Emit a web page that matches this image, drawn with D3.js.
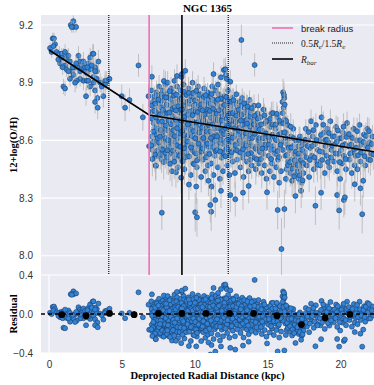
<!DOCTYPE html>
<html>
<head>
<meta charset="utf-8">
<script src="https://cdn.jsdelivr.net/npm/d3@7"></script>
<style>
  body { margin: 0; background: #fff; }
</style>
</head>
<body>
<div id="chart"></div>
<script>
// NGC 1365 metallicity gradient + residuals

const oxyTicks = [8.0, 8.3, 8.6, 8.9, 9.2];
const resTicks = [-0.4, 0.0, 0.4];
const radTicks = [0, 5, 10, 15, 20];

// broken linear fit (kpc, 12+log(O/H))
const fitR = [0, 6.87, 22.3];
const fitOH = [9.07, 8.732, 8.541];

const rBreak = 6.87;
const rBar = 9.12;
const rEffLines = [4.1, 12.3];

// binned median residuals
const binR = [0.87, 2.54, 4.15, 5.84, 7.51, 9.12, 10.77, 12.39, 14.04, 15.65, 17.32, 18.95, 20.64];
const binRes = [-0.007, -0.018, 0.006, -0.007, 0.006, 0.006, 0.006, 0.006, 0.006, -0.018, -0.108, -0.039, -0.004];
const binErr = [0.02, 0.02, 0.02, 0.035, 0.01, 0.01, 0.01, 0.01, 0.012, 0.015, 0.02, 0.015, 0.015];

// spaxels inside the break: [r, O/H, err]
const innerSpaxels = [
  [0.07,9.08,.03],[0.18,9.06,.03],[0.25,9.13,.03],[0.34,9.13,.03],[0.41,9.10,.03],[0.30,9.09,.03],[0.53,9.06,.03],
  [0.71,9.05,.04],[0.87,9.05,.03],[0.99,9.04,.04],[1.21,9.03,.04],[1.33,9.04,.04],[1.44,9.01,.04],[1.10,8.99,.04],
  [0.76,9.00,.03],[0.94,8.98,.04],[0.64,9.02,.03],[1.21,8.97,.04],[1.56,8.96,.04],[1.79,8.98,.04],[2.02,9.04,.05],
  [2.13,9.01,.04],[2.25,8.99,.04],[2.36,9.01,.05],[2.47,8.96,.04],[2.70,9.00,.05],[2.82,9.03,.05],[3.00,9.05,.05],
  [3.05,9.05,.05],[2.82,8.97,.05],[2.59,8.95,.04],[2.36,8.91,.05],[2.13,8.92,.04],[1.90,8.91,.04],[1.67,8.94,.04],
  [1.44,8.92,.04],[1.79,8.90,.05],[2.25,8.97,.04],[2.59,8.91,.05],[3.05,8.93,.05],[3.28,8.96,.05],[3.39,9.01,.06],
  [3.16,8.98,.05],[3.28,8.92,.05],[3.05,8.90,.05],[2.82,8.88,.05],[3.16,8.86,.06],[3.32,8.82,.06],[3.16,8.80,.06],
  [3.34,8.77,.06],[2.54,8.83,.05],[0.99,8.88,.04],[1.10,8.87,.04],[3.51,8.90,.05],[3.85,8.91,.05],[3.96,8.91,.05],
  [4.15,8.92,.05],[3.73,8.83,.06],[4.99,8.83,.06],[5.22,8.77,.07],[5.52,8.81,.06],[6.14,8.99,.06],[6.44,8.72,.07],
  [6.83,8.83,.06],[3.62,8.88,.05],[3.85,8.89,.05],[2.70,8.91,.05],[2.13,8.96,.04],[1.95,8.98,.04],[1.33,8.96,.04],
  [0.87,9.03,.03],[1.10,9.06,.04],[2.47,8.98,.04],[2.93,8.99,.05],[3.16,8.96,.05],[2.63,8.98,.05],[1.86,9.00,.04],
  [1.63,8.98,.04],[1.67,9.22,.03],[1.49,9.20,.03],[1.67,9.19,.03],[1.86,9.19,.03],[1.56,9.19,.03],[6.87,8.57,.05]
];

// spaxels outside the break, first pass: [r, O/H, err]
const outerSpaxels = [
  [7.02,8.86,.06],[7.05,8.62,.05],[7.08,8.75,.04],[7.11,8.55,.07],[7.14,8.80,.05],[7.17,8.69,.04],[7.2,8.58,.06],
  [7.23,8.83,.05],[7.26,8.72,.04],[7.29,8.64,.06],[7.32,8.47,.08],[7.35,8.77,.05],[7.38,8.85,.06],[7.41,8.60,.05],
  [7.44,8.70,.04],[7.47,8.81,.05],[7.49,8.52,.07],[7.24,8.515,.06],[7.33,8.468,.07],[7.06,8.931,.06],
  [7.52,8.74,.05],[7.55,8.88,.06],[7.58,8.63,.05],[7.61,8.79,.04],[7.64,8.57,.06],[7.67,8.84,.05],[7.7,8.68,.04],
  [7.73,8.50,.07],[7.76,8.76,.05],[7.79,8.61,.05],[7.82,8.86,.06],[7.85,8.71,.04],[7.88,8.54,.06],[7.91,8.81,.05],
  [7.94,8.66,.05],[7.97,8.59,.06],[7.99,8.89,.07],[7.74,8.524,.06],[7.86,8.559,.06],[7.74,8.224,.09],[7.88,8.909,.06],
  [8.02,8.73,.05],[8.05,8.84,.05],[8.08,8.56,.06],[8.11,8.66,.04],[8.14,8.90,.06],[8.17,8.78,.05],[8.2,8.49,.07],
  [8.23,8.70,.04],[8.26,8.62,.05],[8.29,8.82,.05],[8.32,8.53,.06],[8.35,8.75,.04],[8.38,8.87,.06],[8.41,8.64,.05],
  [8.44,8.44,.08],[8.47,8.79,.05],[8.49,8.68,.04],[8.03,8.60,.05],[8.36,8.58,.05],
  [8.52,8.85,.05],[8.55,8.60,.05],[8.58,8.72,.04],[8.61,8.91,.06],[8.64,8.51,.07],[8.67,8.80,.05],[8.7,8.66,.04],
  [8.73,8.57,.06],[8.76,8.76,.05],[8.79,8.88,.06],[8.82,8.63,.05],[8.85,8.46,.08],[8.88,8.71,.04],[8.91,8.83,.05],
  [8.94,8.55,.06],[8.97,8.69,.04],[8.99,8.78,.05],[8.56,8.68,.05],[8.86,8.52,.06],[8.71,8.434,.08],[8.78,8.935,.06],
  [9.02,8.62,.05],[9.05,8.86,.05],[9.08,8.74,.04],[9.11,8.50,.07],[9.14,8.81,.05],[9.17,8.67,.04],[9.2,8.58,.06],
  [9.23,8.89,.06],[9.26,8.71,.04],[9.29,8.45,.08],[9.32,8.77,.05],[9.35,8.63,.05],[9.38,8.84,.05],[9.41,8.54,.06],
  [9.44,8.69,.04],[9.47,8.80,.05],[9.49,8.60,.05],[9.1,8.93,.06],[9.3,8.66,.05],[9.07,8.406,.08],[9.12,8.945,.06],[9.35,8.962,.06],
  [9.52,8.75,.05],[9.55,8.52,.06],[9.58,8.87,.06],[9.61,8.66,.04],[9.64,8.79,.05],[9.67,8.58,.05],[9.7,8.72,.04],
  [9.73,8.42,.08],[9.76,8.83,.05],[9.79,8.64,.05],[9.82,8.55,.06],[9.85,8.90,.06],[9.88,8.70,.04],[9.91,8.48,.07],
  [9.94,8.77,.05],[9.97,8.61,.05],[9.99,8.82,.05],[9.6,8.37,.08],[9.8,8.68,.04],
  [10.02,8.67,.04],[10.05,8.85,.05],[10.08,8.56,.06],[10.11,8.74,.05],[10.14,8.46,.07],[10.17,8.80,.05],[10.2,8.63,.05],
  [10.23,8.88,.06],[10.26,8.70,.04],[10.29,8.52,.06],[10.32,8.78,.05],[10.35,8.59,.05],[10.38,8.84,.05],[10.41,8.66,.04],
  [10.44,8.41,.08],[10.47,8.73,.05],[10.49,8.61,.05],[10.1,8.36,.09],[10.4,8.54,.06],[10.03,8.226,.1],[10.15,8.2,.1],
  [10.52,8.82,.05],[10.55,8.64,.05],[10.58,8.50,.06],[10.61,8.76,.05],[10.64,8.87,.06],[10.67,8.57,.05],[10.7,8.69,.04],
  [10.73,8.44,.07],[10.76,8.80,.05],[10.79,8.62,.05],[10.82,8.74,.04],[10.85,8.53,.06],[10.88,8.85,.05],[10.91,8.67,.04],
  [10.94,8.39,.08],[10.97,8.78,.05],[10.99,8.59,.05],[10.6,8.71,.04],[10.9,8.47,.06],
  [11.02,8.70,.04],[11.05,8.55,.06],[11.08,8.83,.05],[11.11,8.63,.05],[11.14,8.48,.07],[11.17,8.77,.05],[11.2,8.88,.06],
  [11.23,8.60,.05],[11.26,8.72,.04],[11.29,8.42,.08],[11.32,8.81,.05],[11.35,8.66,.04],[11.38,8.52,.06],[11.41,8.75,.05],
  [11.44,8.86,.05],[11.47,8.58,.05],[11.49,8.69,.04],[11.15,8.36,.08],[11.13,8.229,.1],[11.07,8.264,.09],[11.41,8.29,.09],[11.29,8.945,.06],
  [11.52,8.79,.05],[11.55,8.62,.05],[11.58,8.46,.07],[11.61,8.74,.05],[11.64,8.84,.05],[11.67,8.56,.06],[11.7,8.68,.04],
  [11.73,8.40,.08],[11.76,8.77,.05],[11.79,8.61,.05],[11.82,8.71,.04],[11.85,8.51,.06],[11.88,8.82,.05],[11.91,8.65,.04],
  [11.94,8.44,.07],[11.97,8.75,.05],[11.99,8.58,.05],[11.6,8.89,.06],[11.8,8.338,.09],[11.8,8.928,.06],[12.0,8.966,.06],
  [12.02,8.68,.04],[12.05,8.83,.05],[12.08,8.55,.06],[12.11,8.72,.04],[12.14,8.94,.06],[12.17,8.60,.05],[12.2,8.78,.05],
  [12.23,8.47,.07],[12.26,8.66,.04],[12.29,8.86,.05],[12.32,8.57,.05],[12.35,8.74,.05],[12.38,8.42,.08],[12.41,8.80,.05],
  [12.44,8.63,.04],[12.47,8.52,.06],[12.49,8.70,.04],[12.1,8.97,.06],[12.2,8.92,.05],[12.44,8.316,.09],[12.44,8.905,.06],
  [12.52,8.76,.05],[12.55,8.59,.05],[12.58,8.82,.05],[12.61,8.49,.07],[12.64,8.69,.04],[12.67,8.55,.06],[12.7,8.79,.05],
  [12.73,8.64,.04],[12.76,8.43,.08],[12.79,8.73,.05],[12.82,8.58,.05],[12.85,8.84,.05],[12.88,8.67,.04],[12.91,8.50,.06],
  [12.94,8.77,.05],[12.97,8.61,.05],[12.78,8.294,.09],
  [13.02,8.71,.04],[13.05,8.54,.06],[13.08,8.80,.05],[13.11,8.63,.05],[13.14,8.46,.07],[13.17,8.74,.05],[13.2,8.58,.05],
  [13.23,8.68,.04],[13.26,8.82,.05],[13.29,8.51,.06],[13.32,8.65,.04],[13.35,8.41,.08],[13.38,8.77,.05],[13.41,8.60,.05],
  [13.44,8.70,.04],[13.47,8.53,.06],[13.31,8.328,.09],[13.2,9.122,.08],
  [13.52,8.66,.05],[13.55,8.79,.05],[13.58,8.49,.07],[13.61,8.62,.05],[13.64,8.73,.04],[13.67,8.56,.05],[13.7,8.44,.07],
  [13.73,8.69,.04],[13.76,8.81,.05],[13.79,8.59,.05],[13.82,8.50,.06],[13.85,8.72,.05],[13.88,8.64,.04],[13.91,8.47,.07],
  [13.94,8.76,.05],[13.97,8.57,.05],[13.7,8.363,.09],
  [14.03,8.62,.05],[14.07,8.78,.06],[14.11,8.51,.06],[14.15,8.70,.05],[14.19,8.45,.08],[14.23,8.66,.05],[14.27,8.57,.06],
  [14.31,8.74,.05],[14.35,8.60,.05],[14.39,8.48,.07],[14.43,8.68,.05],[14.47,8.54,.06],[14.11,8.992,.06],
  [14.52,8.72,.05],[14.56,8.58,.06],[14.6,8.43,.08],[14.64,8.65,.05],[14.68,8.53,.06],[14.72,8.76,.06],[14.76,8.61,.05],
  [14.8,8.47,.07],[14.84,8.69,.05],[14.88,8.56,.06],[14.92,8.40,.08],[14.96,8.63,.05],[14.96,8.33,.09],
  [15.03,8.70,.05],[15.07,8.52,.06],[15.11,8.60,.05],[15.15,8.44,.07],[15.19,8.67,.05],[15.23,8.55,.06],[15.27,8.74,.06],
  [15.31,8.48,.07],[15.35,8.63,.05],[15.39,8.57,.05],[15.43,8.41,.08],[15.47,8.68,.05],
  [15.52,8.53,.06],[15.56,8.66,.05],[15.6,8.46,.07],[15.64,8.60,.05],[15.68,8.72,.06],[15.72,8.50,.06],[15.76,8.63,.05],
  [15.8,8.38,.08],[15.84,8.56,.06],[15.88,8.69,.05],[15.92,8.44,.07],[15.96,8.59,.05],[15.69,8.238,.1],[15.95,8.035,.16],
  [16.02,8.80,.06],[16.06,8.85,.07],[16.1,8.77,.06],[16.14,8.82,.06],[16.18,8.71,.05],[16.22,8.52,.06],[16.26,8.64,.05],
  [16.3,8.45,.07],[16.34,8.58,.06],[16.38,8.68,.05],[16.42,8.49,.07],[16.46,8.61,.05],[16.05,8.55,.06],[16.25,8.40,.08],[16.15,8.243,.1],
  [16.52,8.55,.06],[16.56,8.43,.07],[16.6,8.62,.05],[16.64,8.50,.06],[16.68,8.39,.08],[16.72,8.57,.06],[16.76,8.66,.05],
  [16.8,8.47,.07],[16.84,8.53,.06],[16.88,8.42,.07],[16.92,8.60,.05],[16.96,8.48,.06],[16.91,8.311,.09],
  [17.02,8.51,.06],[17.06,8.44,.07],[17.1,8.57,.06],[17.14,8.40,.08],[17.18,8.49,.06],[17.22,8.62,.05],[17.26,8.45,.07],
  [17.3,8.53,.06],[17.34,8.38,.08],[17.38,8.47,.07],[17.42,8.58,.06],[17.46,8.43,.07],[17.3,8.338,.09],
  [17.55,8.54,.06],[17.62,8.66,.05],[17.7,8.47,.07],[17.78,8.60,.05],[17.85,8.41,.08],[17.92,8.56,.06],[17.98,8.70,.06],
  [18.04,8.52,.06],[18.1,8.62,.05],[18.17,8.45,.07],[18.24,8.58,.06],[18.31,8.68,.06],[18.38,8.49,.07],[18.45,8.55,.06],[18.28,8.26,.1],
  [18.55,8.60,.05],[18.62,8.47,.07],[18.7,8.72,.06],[18.78,8.54,.06],[18.85,8.64,.05],[18.92,8.43,.08],[18.98,8.57,.06],[18.67,8.328,.09],
  [19.04,8.52,.06],[19.1,8.66,.05],[19.17,8.59,.06],[19.24,8.46,.07],[19.31,8.70,.06],[19.38,8.55,.06],[19.45,8.62,.05],
  [19.55,8.49,.07],[19.62,8.58,.06],[19.7,8.67,.06],[19.78,8.44,.08],[19.85,8.53,.06],[19.92,8.61,.05],[19.98,8.40,.08],
  [19.77,8.316,.09],[19.91,8.236,.1],
  [20.04,8.55,.06],[20.1,8.48,.07],[20.17,8.64,.06],[20.24,8.52,.06],[20.31,8.58,.05],[20.38,8.45,.07],[20.45,8.69,.06],
  [20.23,8.29,.09],[20.3,8.304,.09],
  [20.55,8.57,.06],[20.62,8.50,.06],[20.7,8.62,.05],[20.78,8.43,.08],[20.85,8.54,.06],[20.92,8.66,.06],[20.98,8.47,.07],[20.98,8.372,.09],
  [21.04,8.52,.06],[21.1,8.60,.05],[21.17,8.45,.07],[21.24,8.56,.06],[21.31,8.68,.06],[21.38,8.49,.07],[21.45,8.58,.06],
  [21.49,8.216,.1],[21.37,8.351,.09],
  [21.55,8.54,.06],[21.62,8.63,.05],[21.7,8.47,.07],[21.78,8.57,.06],[21.85,8.66,.06],[21.92,8.50,.07],[22.0,8.59,.06],
  [22.1,8.53,.06],[22.2,8.62,.06],[21.56,8.39,.09]
];

// spaxels outside the break, second pass (filling the dense disc): [r, O/H, err]
const discSpaxels = [
  [7.07,8.713,.07],[7.43,8.547,.08],[7.19,8.806,.06],[7.31,8.668,.07],[7.13,8.592,.08],[7.46,8.742,.06],[7.27,8.527,.09],
  [7.04,8.781,.06],[7.36,8.628,.07],[7.22,8.754,.06],[7.48,8.661,.07],[7.09,8.503,.09],[7.4,8.834,.06],[7.16,8.646,.07],
  [7.29,8.791,.06],[7.02,8.574,.08],[7.34,8.719,.07],[7.45,8.611,.08],
  [7.57,8.697,.07],[7.92,8.742,.06],[7.63,8.528,.08],[7.81,8.642,.07],[7.69,8.806,.06],[7.54,8.589,.08],[7.96,8.613,.07],
  [7.72,8.771,.06],[7.87,8.487,.09],[7.6,8.735,.06],[7.77,8.552,.08],[7.93,8.826,.06],[7.66,8.654,.07],[7.84,8.759,.06],
  [7.51,8.812,.06],[7.98,8.534,.08],[7.75,8.698,.07],[7.62,8.619,.07],
  [8.07,8.786,.06],[8.43,8.597,.08],[8.18,8.651,.07],[8.33,8.814,.06],[8.09,8.512,.09],[8.46,8.727,.06],[8.24,8.569,.08],
  [8.01,8.677,.07],[8.39,8.536,.08],[8.13,8.742,.06],[8.28,8.856,.06],[8.48,8.628,.07],[8.21,8.703,.07],[8.04,8.823,.06],
  [8.36,8.684,.07],[8.16,8.601,.08],[8.31,8.478,.09],[8.44,8.763,.06],[8.26,8.745,.06],[8.12,8.548,.08],
  [8.53,8.653,.07],[8.89,8.613,.07],[8.62,8.772,.06],[8.77,8.525,.09],[8.57,8.832,.06],[8.93,8.746,.06],[8.68,8.591,.08],
  [8.84,8.686,.07],[8.51,8.547,.08],[8.74,8.838,.06],[8.98,8.638,.07],[8.66,8.709,.07],[8.81,8.574,.08],[8.59,8.489,.09],
  [8.95,8.811,.06],[8.71,8.756,.06],[8.87,8.778,.06],[8.63,8.622,.07],[8.79,8.663,.07],[8.96,8.521,.08],
  [9.06,8.704,.07],[9.42,8.742,.06],[9.18,8.538,.08],[9.33,8.603,.07],[9.09,8.819,.06],[9.46,8.671,.07],[9.24,8.783,.06],
  [9.01,8.567,.08],[9.37,8.512,.09],[9.13,8.647,.07],[9.28,8.852,.06],[9.48,8.578,.08],[9.21,8.628,.07],[9.04,8.758,.06],
  [9.39,8.696,.07],[9.16,8.491,.09],[9.31,8.724,.06],[9.44,8.836,.06],[9.26,8.559,.08],[9.12,8.761,.06],
  [9.57,8.627,.07],[9.93,8.693,.07],[9.68,8.808,.06],[9.83,8.577,.08],[9.54,8.734,.06],[9.98,8.538,.08],[9.72,8.654,.07],
  [9.87,8.846,.06],[9.51,8.594,.08],[9.78,8.753,.06],[9.62,8.516,.09],[9.95,8.781,.06],[9.66,8.689,.07],[9.81,8.622,.07],
  [9.59,8.847,.06],[9.91,8.648,.07],[9.74,8.563,.08],[9.86,8.731,.06],[9.53,8.682,.07],[9.96,8.476,.09],
  [10.06,8.751,.06],[10.42,8.688,.07],[10.18,8.604,.07],[10.33,8.719,.07],[10.09,8.532,.08],[10.46,8.812,.06],[10.24,8.663,.07],
  [10.01,8.808,.06],[10.37,8.567,.08],[10.13,8.692,.07],[10.28,8.836,.06],[10.48,8.543,.08],[10.21,8.748,.06],[10.04,8.611,.07],
  [10.39,8.764,.06],[10.16,8.497,.09],[10.31,8.641,.07],[10.44,8.787,.06],[10.26,8.583,.08],[10.11,8.858,.06],
  [10.57,8.703,.07],[10.93,8.621,.07],[10.68,8.783,.06],[10.83,8.677,.07],[10.54,8.558,.08],[10.98,8.733,.06],[10.72,8.597,.08],
  [10.87,8.811,.06],[10.51,8.667,.07],[10.78,8.512,.09],[10.62,8.826,.06],[10.95,8.568,.08],[10.66,8.734,.06],[10.81,8.647,.07],
  [10.59,8.612,.07],[10.91,8.759,.06],[10.74,8.835,.06],[10.86,8.583,.08],[10.53,8.757,.06],[10.96,8.679,.07],
  [11.06,8.646,.07],[11.42,8.706,.07],[11.18,8.584,.08],[11.33,8.738,.06],[11.09,8.791,.06],[11.46,8.629,.07],[11.24,8.811,.06],
  [11.01,8.529,.08],[11.37,8.662,.07],[11.13,8.718,.06],[11.28,8.566,.08],[11.48,8.801,.06],[11.21,8.683,.07],[11.04,8.753,.06],
  [11.39,8.597,.08],[11.16,8.841,.06],[11.31,8.621,.07],[11.44,8.544,.08],[11.26,8.765,.06],[11.11,8.612,.07],
  [11.57,8.706,.07],[11.93,8.684,.07],[11.68,8.631,.07],[11.83,8.776,.06],[11.54,8.549,.08],[11.98,8.811,.06],[11.72,8.588,.08],
  [11.87,8.647,.07],[11.51,8.738,.06],[11.78,8.817,.06],[11.62,8.664,.07],[11.95,8.534,.08],[11.66,8.757,.06],[11.81,8.603,.07],
  [11.59,8.812,.06],[11.91,8.726,.06],[11.74,8.542,.08],[11.86,8.703,.07],[11.53,8.621,.07],[11.96,8.652,.07],
  [12.06,8.754,.06],[12.42,8.668,.07],[12.18,8.712,.07],[12.33,8.622,.07],[12.09,8.589,.08],[12.46,8.781,.06],[12.24,8.804,.06],
  [12.01,8.632,.07],[12.37,8.543,.08],[12.13,8.662,.07],[12.28,8.729,.06],[12.48,8.597,.08],[12.21,8.558,.08],[12.04,8.784,.06],
  [12.39,8.707,.07],[12.16,8.826,.06],[12.31,8.681,.07],[12.44,8.741,.06],[12.26,8.603,.07],[12.11,8.518,.09],
  [12.57,8.682,.07],[12.93,8.707,.07],[12.68,8.622,.07],[12.83,8.756,.06],[12.54,8.538,.08],[12.98,8.587,.08],[12.72,8.717,.06],
  [12.87,8.629,.07],[12.51,8.801,.06],[12.78,8.574,.08],[12.62,8.742,.06],[12.95,8.663,.07],[12.66,8.809,.06],[12.81,8.695,.07],
  [12.59,8.614,.07],[12.91,8.548,.08],[12.74,8.663,.07],[12.86,8.729,.06],
  [13.06,8.663,.07],[13.42,8.642,.07],[13.18,8.781,.06],[13.33,8.571,.08],[13.09,8.598,.08],[13.46,8.747,.06],[13.24,8.623,.07],
  [13.01,8.759,.06],[13.37,8.701,.07],[13.13,8.537,.08],[13.28,8.681,.07],[13.48,8.582,.08],[13.21,8.732,.06],[13.04,8.649,.07],
  [13.39,8.793,.06],[13.16,8.703,.07],[13.31,8.554,.08],
  [13.57,8.708,.07],[13.93,8.662,.07],[13.68,8.611,.07],[13.83,8.754,.06],[13.54,8.573,.08],[13.98,8.697,.07],[13.72,8.752,.06],
  [13.87,8.534,.08],[13.51,8.637,.07],[13.78,8.672,.07],[13.62,8.776,.06],[13.95,8.613,.07],[13.66,8.529,.08],[13.81,8.723,.06],
  [13.59,8.688,.07],[13.91,8.768,.06],
  [14.06,8.683,.07],[14.42,8.612,.07],[14.18,8.557,.08],[14.33,8.713,.06],[14.09,8.728,.06],[14.46,8.657,.07],[14.24,8.503,.09],
  [14.13,8.634,.07],[14.37,8.782,.06],
  [14.57,8.683,.07],[14.93,8.701,.07],[14.68,8.612,.07],[14.83,8.578,.08],[14.54,8.503,.09],[14.78,8.731,.06],[14.63,8.558,.08],
  [14.89,8.637,.07],
  [15.06,8.618,.07],[15.42,8.552,.08],[15.18,8.712,.06],[15.33,8.683,.07],[15.09,8.578,.08],[15.46,8.617,.07],[15.24,8.503,.09],
  [15.37,8.742,.06],
  [15.57,8.603,.07],[15.93,8.638,.07],[15.68,8.544,.08],[15.83,8.702,.06],[15.54,8.682,.07],[15.78,8.513,.09],[15.63,8.738,.06],
  [15.89,8.577,.08],
  [16.04,8.742,.07],[16.12,8.836,.07],[16.08,8.689,.07],[16.17,8.786,.07],[16.21,8.613,.08],[16.33,8.524,.08],[16.44,8.562,.08],
  [16.28,8.701,.07],[16.39,8.471,.09],[16.16,8.642,.07],
  [16.54,8.487,.08],[16.63,8.562,.08],[16.71,8.453,.09],[16.78,8.612,.07],[16.86,8.497,.08],[16.94,8.542,.08],[16.59,8.671,.07],
  [16.82,8.413,.09],
  [17.04,8.472,.08],[17.12,8.531,.08],[17.2,8.418,.09],[17.28,8.497,.08],[17.36,8.551,.08],[17.44,8.482,.08],[17.16,8.602,.07],
  [17.4,8.392,.09],
  [17.58,8.603,.07],[17.66,8.512,.08],[17.74,8.571,.08],[17.82,8.643,.07],[17.9,8.498,.08],
  [18.07,8.571,.08],[18.14,8.653,.07],[18.21,8.512,.08],[18.35,8.602,.07],[18.42,8.473,.09],
  [18.58,8.543,.08],[18.66,8.628,.07],[18.74,8.498,.08],[18.82,8.681,.07],[18.95,8.602,.07],
  [19.07,8.603,.07],[19.14,8.487,.08],[19.21,8.638,.07],[19.35,8.511,.08],[19.42,8.572,.08],
  [19.58,8.621,.07],[19.66,8.532,.08],[19.74,8.592,.08],[19.82,8.652,.07],[19.95,8.487,.08],
  [20.07,8.612,.07],[20.14,8.573,.08],[20.21,8.671,.07],[20.35,8.503,.08],[20.42,8.618,.07],
  [20.58,8.633,.07],[20.66,8.531,.08],[20.74,8.578,.08],[20.82,8.612,.07],[20.95,8.552,.08],
  [21.07,8.562,.08],[21.14,8.648,.07],[21.21,8.523,.08],[21.35,8.601,.07],[21.42,8.537,.08],
  [21.58,8.592,.07],[21.66,8.518,.08],[21.74,8.623,.07],[21.88,8.562,.08],[21.96,8.648,.07],[22.05,8.498,.08],
  [22.15,8.581,.07],[22.25,8.527,.08]
];

// ---------------- layout
const W = 374, H = 385;
const left = 41, right = 374;
const topY0 = 15, topY1 = 275, resY0 = 275, resY1 = 353;

const svg = d3.select("#chart").append("svg")
  .attr("width", W).attr("height", H)
  .style("font-family", "'Liberation Sans', Arial, sans-serif");

const x = d3.scaleLinear().domain([-0.55, 22.3]).range([left, right]);
const y = d3.scaleLinear().domain([7.9, 9.252]).range([topY1, topY0]);
const yr = d3.scaleLinear().domain([-0.4, 0.4]).range([resY1, resY0]);
const fit = d3.scaleLinear().domain(fitR).range(fitOH);

const spaxels = innerSpaxels.concat(outerSpaxels, discSpaxels)
  .map(d => ({ r: d[0], oh: d[1], e: d[2] }));
spaxels.forEach(d => { d.res = d.oh - fit(d.r); });

const defs = svg.append("defs");
defs.append("clipPath").attr("id", "clipTop").append("rect")
  .attr("x", left).attr("y", topY0).attr("width", right - left).attr("height", topY1 - topY0);
defs.append("clipPath").attr("id", "clipRes").append("rect")
  .attr("x", left).attr("y", resY0).attr("width", right - left).attr("height", resY1 - resY0);

// backgrounds
svg.append("rect").attr("x", left).attr("y", topY0).attr("width", right - left)
  .attr("height", topY1 - topY0).attr("fill", "#eaeaf2");
svg.append("rect").attr("x", left).attr("y", resY0).attr("width", right - left)
  .attr("height", resY1 - resY0).attr("fill", "#eaeaf2");

// grid
svg.append("g").selectAll("line").data(oxyTicks).enter().append("line")
  .attr("x1", left).attr("x2", right).attr("y1", d => y(d)).attr("y2", d => y(d))
  .attr("stroke", "#fff").attr("stroke-width", 1.2);
svg.append("g").selectAll("line").data(resTicks).enter().append("line")
  .attr("x1", left).attr("x2", right).attr("y1", d => yr(d)).attr("y2", d => yr(d))
  .attr("stroke", "#fff").attr("stroke-width", 1.2);
svg.append("g").selectAll("line").data(radTicks).enter().append("line")
  .attr("x1", d => x(d)).attr("x2", d => x(d)).attr("y1", resY0).attr("y2", resY1)
  .attr("stroke", "#fff").attr("stroke-width", 1.2);

// ---------------- top panel
const topG = svg.append("g").attr("clip-path", "url(#clipTop)");

// errorbar + marker per spaxel, in order, so later bars sit over earlier markers
const pts = topG.append("g").selectAll("g").data(spaxels).enter().append("g");
pts.append("line")
  .attr("x1", d => x(d.r)).attr("x2", d => x(d.r))
  .attr("y1", d => y(d.oh - d.e)).attr("y2", d => y(d.oh + d.e))
  .attr("stroke", "#b0b0b0").attr("stroke-opacity", 0.75).attr("stroke-width", 1);
pts.append("circle")
  .attr("cx", d => x(d.r)).attr("cy", d => y(d.oh)).attr("r", 2.5)
  .attr("fill", "#3282d6").attr("stroke", "#1a3d66").attr("stroke-width", 0.6);

topG.append("path")
  .datum(fitR.map((r, i) => ({ r: r, oh: fitOH[i] })))
  .attr("fill", "none").attr("stroke", "#000").attr("stroke-width", 1.6)
  .attr("d", d3.line().x(d => x(d.r)).y(d => y(d.oh)));

topG.append("line")
  .attr("x1", x(rBreak)).attr("x2", x(rBreak)).attr("y1", topY0).attr("y2", topY1)
  .attr("stroke", "#f06eb4").attr("stroke-width", 1.6);
topG.selectAll(".reff").data(rEffLines).enter().append("line")
  .attr("x1", d => x(d)).attr("x2", d => x(d)).attr("y1", topY0).attr("y2", topY1)
  .attr("stroke", "#222").attr("stroke-width", 1.3).attr("stroke-dasharray", "1,1");
topG.append("line")
  .attr("x1", x(rBar)).attr("x2", x(rBar)).attr("y1", topY0).attr("y2", topY1)
  .attr("stroke", "#000").attr("stroke-width", 1.6);

// ---------------- residual panel
const resG = svg.append("g").attr("clip-path", "url(#clipRes)");

resG.append("g").selectAll("circle").data(spaxels).enter().append("circle")
  .attr("cx", d => x(d.r)).attr("cy", d => yr(d.res)).attr("r", 2.5)
  .attr("fill", "#3282d6").attr("stroke", "#1a3d66").attr("stroke-width", 0.6);

resG.append("line")
  .attr("x1", left).attr("x2", right).attr("y1", yr(0)).attr("y2", yr(0))
  .attr("stroke", "#000").attr("stroke-width", 1.6).attr("stroke-dasharray", "4,3");

const bins = binR.map((r, i) => ({ r: r, v: binRes[i], e: binErr[i] }));
resG.append("g").selectAll("line").data(bins).enter().append("line")
  .attr("x1", d => x(d.r)).attr("x2", d => x(d.r))
  .attr("y1", d => yr(d.v - d.e)).attr("y2", d => yr(d.v + d.e))
  .attr("stroke", "#000").attr("stroke-width", 1.5);
resG.append("g").selectAll("circle").data(bins).enter().append("circle")
  .attr("cx", d => x(d.r)).attr("cy", d => yr(d.v)).attr("r", 3.4).attr("fill", "#000");

// ---------------- axes
function styleAxis(g) {
  g.select(".domain").remove();
  g.selectAll("text").attr("fill", "#333").style("font-size", "10px")
    .style("font-family", "'Liberation Sans', Arial, sans-serif");
}
svg.append("g").attr("transform", `translate(${left},0)`)
  .call(d3.axisLeft(y).tickValues(oxyTicks).tickSize(0).tickPadding(8).tickFormat(d3.format(".1f")))
  .call(styleAxis);
svg.append("g").attr("transform", `translate(${left},0)`)
  .call(d3.axisLeft(yr).tickValues(resTicks).tickSize(0).tickPadding(8).tickFormat(d3.format(".1f")))
  .call(styleAxis);
svg.append("g").attr("transform", `translate(0,${resY1})`)
  .call(d3.axisBottom(x).tickValues(radTicks).tickSize(0).tickPadding(8))
  .call(styleAxis);

// labels
const serif = "'Liberation Serif', 'Times New Roman', serif";
svg.append("text").attr("x", (left + right) / 2).attr("y", 12)
  .attr("text-anchor", "middle").style("font-family", serif).style("font-weight", "bold")
  .style("font-size", "11px").text("NGC 1365");
svg.append("text").attr("transform", `translate(17,${(topY0 + topY1) / 2}) rotate(-90)`)
  .attr("text-anchor", "middle").style("font-family", serif).style("font-weight", "bold")
  .style("font-size", "10.5px").text("12+log(O/H)");
svg.append("text").attr("transform", `translate(17,${(resY0 + resY1) / 2}) rotate(-90)`)
  .attr("text-anchor", "middle").style("font-family", serif).style("font-weight", "bold")
  .style("font-size", "10.5px").text("Residual");
svg.append("text").attr("x", (left + right) / 2).attr("y", 379)
  .attr("text-anchor", "middle").style("font-family", serif).style("font-weight", "bold")
  .style("font-size", "10.5px").text("Deprojected Radial Distance (kpc)");

// ---------------- legend
const legend = svg.append("g").attr("transform", "translate(272,28)");
legend.append("line").attr("x1", 0).attr("x2", 21).attr("y1", 0).attr("y2", 0)
  .attr("stroke", "#f06eb4").attr("stroke-width", 1.6);
legend.append("text").attr("x", 29).attr("y", 3.5).attr("fill", "#222")
  .style("font-size", "9.5px").text("break radius");

legend.append("line").attr("x1", 0).attr("x2", 21).attr("y1", 15).attr("y2", 15)
  .attr("stroke", "#222").attr("stroke-width", 1.2).attr("stroke-dasharray", "1,1");
const re = legend.append("text").attr("x", 29).attr("y", 18.5).attr("fill", "#222")
  .style("font-family", serif).style("font-size", "9.5px");
re.append("tspan").text("0.5");
re.append("tspan").style("font-style", "italic").text("R");
re.append("tspan").style("font-style", "italic").style("font-size", "7px").attr("dy", 2).text("e");
re.append("tspan").attr("dy", -2).text("/1.5");
re.append("tspan").style("font-style", "italic").text("R");
re.append("tspan").style("font-style", "italic").style("font-size", "7px").attr("dy", 2).text("e");

legend.append("line").attr("x1", 0).attr("x2", 21).attr("y1", 31).attr("y2", 31)
  .attr("stroke", "#000").attr("stroke-width", 1.6);
const rb = legend.append("text").attr("x", 29).attr("y", 34.5).attr("fill", "#222")
  .style("font-family", serif).style("font-size", "9.5px");
rb.append("tspan").style("font-style", "italic").text("R");
rb.append("tspan").style("font-style", "italic").style("font-size", "7px").attr("dy", 2).text("bar");
</script>
</body>
</html>
